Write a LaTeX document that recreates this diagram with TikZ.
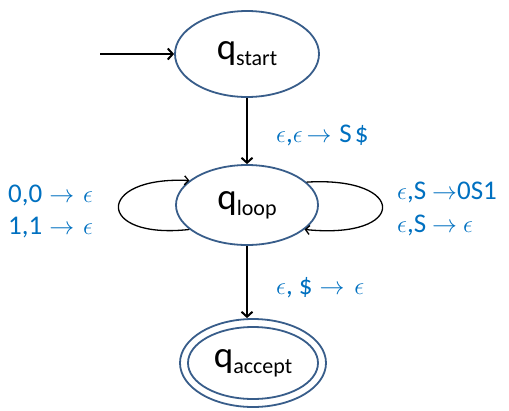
\documentclass[tikz,border=0pt]{standalone}
\usepackage{fontspec}
\setmainfont{Carlito}
\usetikzlibrary{arrows.meta,shapes.geometric}
\definecolor{stateblue}{HTML}{385D8A}
\definecolor{labelblue}{HTML}{0070C0}
\newcommand{\eps}{$\epsilon$}
\newcommand{\arrw}{$\rightarrow$}
\begin{document}
\begin{tikzpicture}[x=1pt,y=-1pt,
  state/.style={ellipse,draw=stateblue,line width=1.8pt,fill=white,inner sep=0pt},
  edge/.style={line width=2pt,-{Straight Barb[length=5pt,width=11pt,line width=2pt]}},
  loopedge/.style={line width=1.3pt,-{Straight Barb[length=4pt,width=9pt,line width=1.3pt]}},
  lbl/.style={text=labelblue,font=\fontsize{27}{32.5}\selectfont,inner sep=0pt,align=left}]
\useasboundingbox (0,0) rectangle (509,410);
\node[state,minimum width=144pt,minimum height=86pt] (start) at (247,54)
  {\fontsize{37}{40}\selectfont q\raisebox{-6pt}{\fontsize{22}{26}\selectfont start}};
\node[state,minimum width=142pt,minimum height=80pt] (loop) at (247,205)
  {\fontsize{37}{40}\selectfont q\raisebox{-6pt}{\fontsize{22}{26}\selectfont loop}};
\node[state,minimum width=146pt,minimum height=88pt] (acceptout) at (253,363) {};
\node[state,minimum width=130pt,minimum height=72pt] (accept) at (253,363)
  {\fontsize{37}{40}\selectfont q\raisebox{-6pt}{\fontsize{22}{26}\selectfont accept}};
\coordinate (init) at (100,54);
\draw[edge] (init) -- (start.west);
\draw[edge] (start.south) -- (loop.north);
\draw[edge] (loop.south) -- (loop.south |- acceptout.north);
\draw[loopedge] (loop.203) .. controls (95,240) and (95,176) .. (loop.157);
\draw[loopedge] (loop.21) .. controls (408,176) and (408,240) .. (loop.337);
\node[lbl,anchor=west] (l1) at (276,135)
  {\eps,\eps\hspace{4pt}\arrw\hspace{8pt}S\hspace{3pt}\$};
\node[lbl,anchor=west] (l2) at (8,211.5)
  {0,0\hspace{7pt}\arrw\hspace{9pt}\eps\\1,1\hspace{7pt}\arrw\hspace{9pt}\eps};
\node[lbl,anchor=west] (l3) at (397,209)
  {\eps,S\hspace{6pt}\arrw0S1\\\eps,S\hspace{6pt}\arrw\hspace{6pt}\eps};
\node[lbl,anchor=west] (l4) at (276,288)
  {\eps, \$\hspace{7pt}\arrw\hspace{10pt}\eps};
\end{tikzpicture}
\end{document}
